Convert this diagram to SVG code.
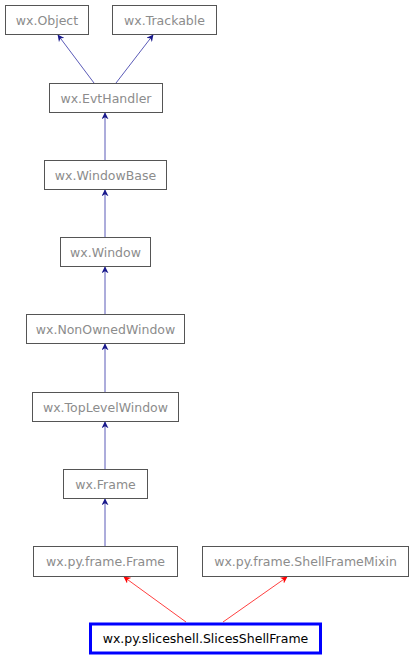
<svg xmlns="http://www.w3.org/2000/svg" width="414" height="659" viewBox="0 0 414 659">
<defs>
<style>
.box{fill:#fff;stroke:#555;stroke-width:1}
.shadow{fill:#999}
.lbl{font-family:"DejaVu Sans",sans-serif;font-size:12.5px;fill:#8c8c8c;text-anchor:middle}
.main{fill:#fff;stroke:#0000ff;stroke-width:3}
.mainlbl{font-family:"DejaVu Sans",sans-serif;font-size:12.5px;fill:#000;text-anchor:middle}
.edge{stroke:#5b5bb8;stroke-width:1;fill:none;marker-end:url(#ah)}
.redge{stroke:#ff4040;stroke-width:1;fill:none;marker-end:url(#rh)}
</style>
<marker id="ah" viewBox="0 0 10 10" refX="9" refY="5" markerWidth="7" markerHeight="7" markerUnits="userSpaceOnUse" orient="auto">
<path d="M0,0 L10,5 L0,10 L3,5 Z" fill="#1a1a8c"/>
</marker>
<marker id="rh" viewBox="0 0 10 10" refX="9" refY="5" markerWidth="7" markerHeight="7" markerUnits="userSpaceOnUse" orient="auto">
<path d="M0,0 L10,5 L0,10 L3,5 Z" fill="#ff0000"/>
</marker>
</defs>
<rect width="414" height="659" fill="#fff"/>
<g id="connectors">
<line class="edge" x1="94" y1="83" x2="58" y2="35"/>
<line class="edge" x1="116" y1="83" x2="153" y2="35"/>
<line class="edge" x1="105" y1="160" x2="105" y2="113"/>
<line class="edge" x1="105" y1="237" x2="105" y2="190"/>
<line class="edge" x1="105" y1="314" x2="105" y2="267"/>
<line class="edge" x1="105" y1="392" x2="105" y2="344"/>
<line class="edge" x1="105" y1="469" x2="105" y2="422"/>
<line class="edge" x1="105" y1="546" x2="105" y2="499"/>
<line class="redge" x1="186" y1="622" x2="124" y2="577"/>
<line class="redge" x1="223" y1="622" x2="287" y2="577"/>
</g>
<g id="wx.Object"><rect class="box" x="5.5" y="5.5" width="83" height="29"/><text class="lbl" x="47" y="24.5">wx.Object</text></g>
<g id="wx.Trackable"><rect class="box" x="112.5" y="5.5" width="104" height="29"/><text class="lbl" x="164.5" y="24.5">wx.Trackable</text></g>
<g id="wx.EvtHandler"><rect class="box" x="49.5" y="83.5" width="113" height="29"/><text class="lbl" x="106" y="102.5">wx.EvtHandler</text></g>
<g id="wx.WindowBase"><rect class="box" x="44.5" y="160.5" width="122" height="29"/><text class="lbl" x="105.5" y="179.5">wx.WindowBase</text></g>
<g id="wx.Window"><rect class="box" x="60.5" y="237.5" width="90" height="29"/><text class="lbl" x="105.5" y="256.5">wx.Window</text></g>
<g id="wx.NonOwnedWindow"><rect class="box" x="26.5" y="314.5" width="158" height="29"/><text class="lbl" x="105.5" y="333.5">wx.NonOwnedWindow</text></g>
<g id="wx.TopLevelWindow"><rect class="box" x="32.5" y="392.5" width="146" height="29"/><text class="lbl" x="105.5" y="411.5">wx.TopLevelWindow</text></g>
<g id="wx.Frame"><rect class="box" x="63.5" y="469.5" width="84" height="29"/><text class="lbl" x="105.5" y="488.5">wx.Frame</text></g>
<g id="wx.py.frame.Frame"><rect class="box" x="33.5" y="546.5" width="144" height="30"/><text class="lbl" x="105.5" y="566">wx.py.frame.Frame</text></g>
<g id="wx.py.frame.ShellFrameMixin"><rect class="box" x="202.5" y="546.5" width="206" height="30"/><text class="lbl" x="305.5" y="566">wx.py.frame.ShellFrameMixin</text></g>
<g id="wx.py.sliceshell.SlicesShellFrame"><rect class="main" x="90.5" y="624" width="230" height="29"/><text class="mainlbl" x="205.5" y="643">wx.py.sliceshell.SlicesShellFrame</text></g>
</svg>
